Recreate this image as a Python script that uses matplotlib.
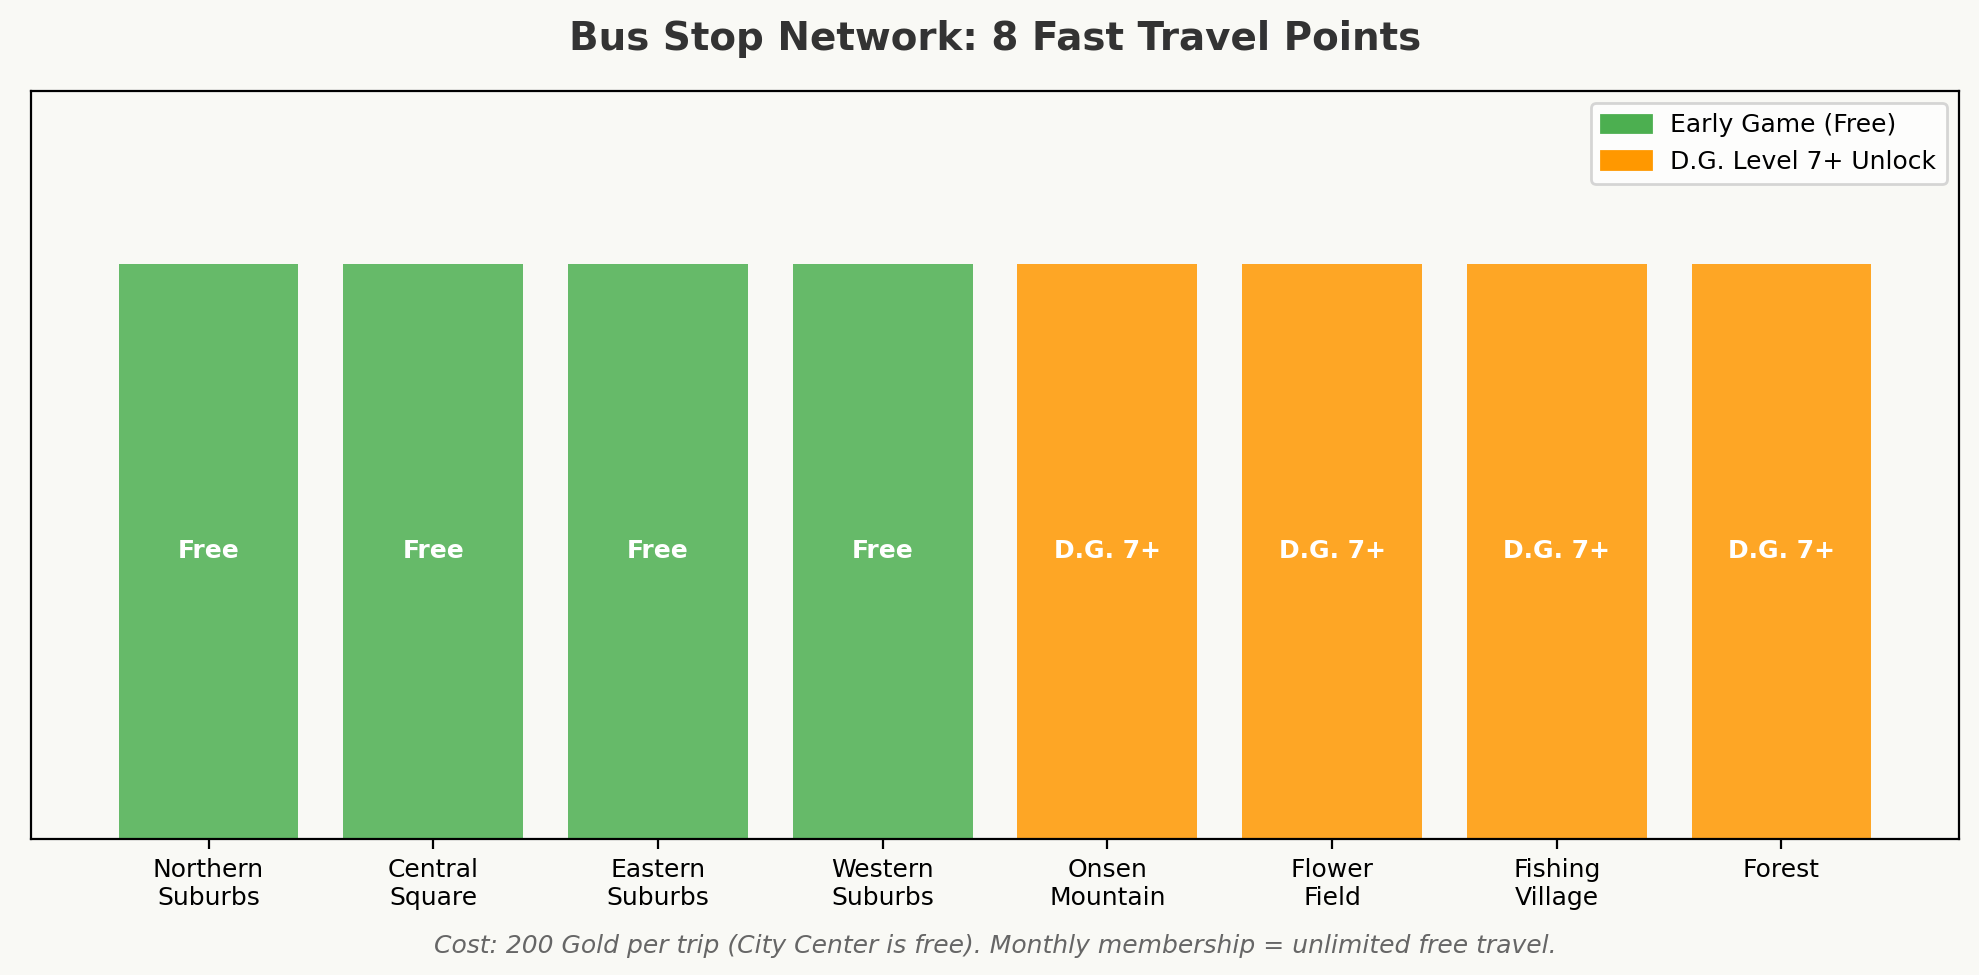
import matplotlib.pyplot as plt
from matplotlib.patches import Patch

stops = ["Northern\nSuburbs", "Central\nSquare", "Eastern\nSuburbs", "Western\nSuburbs",
         "Onsen\nMountain", "Flower\nField", "Fishing\nVillage", "Forest"]
heights = [1, 1, 1, 1, 1, 1, 1, 1]
labels = ["Free", "Free", "Free", "Free", "D.G. 7+", "D.G. 7+", "D.G. 7+", "D.G. 7+"]
groups = ["free", "free", "free", "free", "dg", "dg", "dg", "dg"]

colors = {"free": "#4CAF50", "dg": "#FF9800"}
bg = "#f9f9f5"

fig = plt.figure(figsize=(9.895, 4.875), dpi=200, facecolor=bg)
ax = fig.add_axes([31 / 1979, 1 - 838.5 / 975, (1959 - 31) / 1979, (838.5 - 91) / 975])
ax.set_facecolor(bg)

x = range(len(stops))
bars = ax.bar(x, heights, width=0.8, color=[colors[g] for g in groups], alpha=0.85)
for b, lab in zip(bars, labels):
    ax.text(b.get_x() + b.get_width() / 2, b.get_height() / 2, lab,
            ha="center", va="center", color="white", fontsize=9, fontweight="bold")

ax.set_xticks(list(x))
ax.set_xticklabels(stops, fontsize=9)
ax.set_yticks([])
ax.set_ylim(0, 1.3)

handles = [Patch(color=colors["free"], label="Early Game (Free)"),
           Patch(color=colors["dg"], label="D.G. Level 7+ Unlock")]
ax.legend(handles=handles, loc="upper right", fontsize=9)

cx = 995 / 1979
fig.text(cx, 1 - 39.5 / 975, "Bus Stop Network: 8 Fast Travel Points",
         ha="center", va="center", fontsize=14, fontweight="bold", color="#333333")
fig.text(cx, 1 - 945.5 / 975,
         "Cost: 200 Gold per trip (City Center is free). Monthly membership = unlimited free travel.",
         ha="center", va="center", fontsize=9, style="italic", color="#666666")

fig.savefig("out.png", dpi=200, facecolor=bg)
